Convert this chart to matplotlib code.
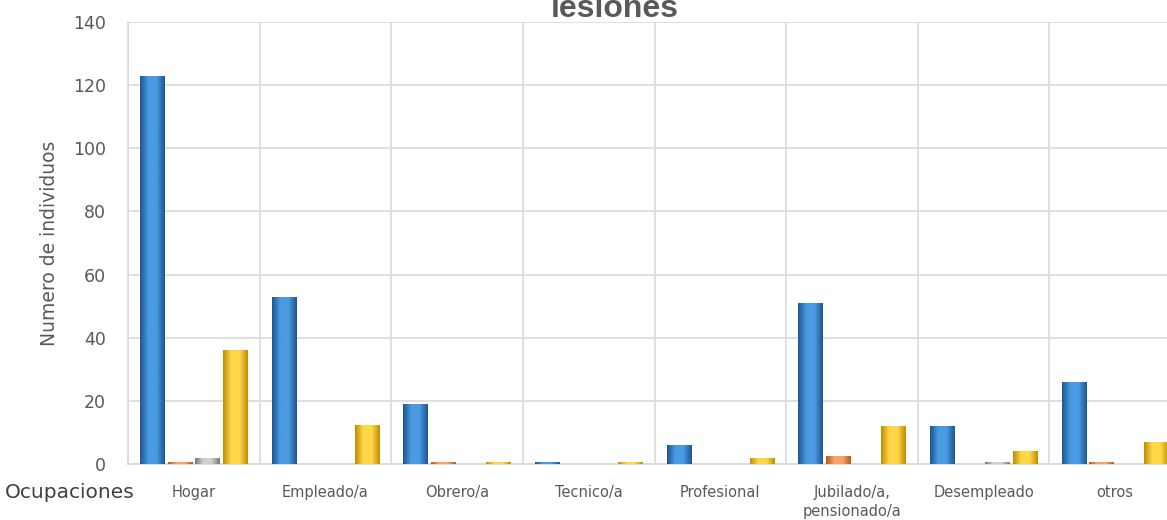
import matplotlib
matplotlib.use("Agg")
import matplotlib.pyplot as plt
import numpy as np
from matplotlib.colors import LinearSegmentedColormap

categories = ["Hogar", "Empleado/a", "Obrero/a", "Tecnico/a", "Profesional",
              "Jubilado/a,\npensionado/a", "Desempleado", "otros"]
serie_azul = [123, 53, 19, 0.6, 6, 51, 12, 26]
serie_naranja = [0.6, 0, 0.5, 0, 0, 2.5, 0, 0.6]
serie_gris = [1.8, 0, 0, 0, 0, 0, 0.6, 0]
serie_amarilla = [36, 12.5, 0.5, 0.6, 2, 12, 4, 7]
yticks = [0, 20, 40, 60, 80, 100, 120, 140]

series = [serie_azul, serie_naranja, serie_gris, serie_amarilla]
base_colors = ["#3A7DC6", "#ED7D31", "#A5A5A5", "#FFC000"]
grad_colors = [("#1F558F", "#4A9BE3"), ("#B85A1C", "#F8A46A"),
               ("#7A7A7A", "#D0D0D0"), ("#C08E00", "#FFD84A")]

fig = plt.figure(figsize=(11.67, 5.2), dpi=100)
ax = fig.add_axes([128/1167, 1-464/520, 1053/1167, 442/520])

n = len(categories)
x = np.arange(n)
bw = 0.185
step = 0.21
offsets = (np.arange(4) - 1.5) * step

for i, (vals, col, (dk, lt)) in enumerate(zip(series, base_colors, grad_colors)):
    bars = ax.bar(x + offsets[i], vals, width=bw, color=col, zorder=3, linewidth=0)
    cmap = LinearSegmentedColormap.from_list("g%d" % i, [dk, lt, lt, dk])
    grad = np.linspace(0, 1, 64).reshape(1, -1)
    for p in bars:
        h = p.get_height()
        if h <= 0:
            continue
        im = ax.imshow(grad, cmap=cmap, aspect="auto", zorder=4,
                       extent=(p.get_x(), p.get_x() + p.get_width(), 0, h),
                       interpolation="bicubic")
        im.set_clip_path(p)

ax.set_xlim(-0.5, n - 0.5)
ax.set_ylim(0, 140)
ax.set_yticks(yticks)
ax.set_yticklabels([str(v) for v in yticks], fontsize=12.5, color="#595959",
                   family="DejaVu Sans")
ax.set_xticks(x)
ax.set_xticklabels(categories, fontsize=10.5, color="#595959", family="DejaVu Sans",
                   linespacing=1.35)
ax.set_xticks(np.arange(n + 1) - 0.5, minor=True)
ax.tick_params(axis="both", which="both", length=0)
ax.tick_params(axis="x", pad=15)
ax.tick_params(axis="y", pad=16)
ax.grid(axis="y", color="#D9D9D9", linewidth=1.2, zorder=0)
ax.grid(axis="x", which="minor", color="#D9D9D9", linewidth=1.2, zorder=0)
ax.grid(axis="x", which="major", visible=False)
for s in ["top", "right"]:
    ax.spines[s].set_visible(False)
for s in ["left", "bottom"]:
    ax.spines[s].set_color("#D9D9D9")
    ax.spines[s].set_linewidth(1.2)

ax.set_ylabel("Numero de individuos", fontsize=13.5, color="#595959",
              family="DejaVu Sans", labelpad=10)
fig.text(5/1167, 1-493/520, "Ocupaciones", fontsize=14.5, color="#404040",
         family="DejaVu Sans", ha="left", va="center")
fig.text(615/1167, 1-17/520, "lesiones", fontsize=23, fontweight="bold",
         color="#595959", family="Liberation Sans", ha="center", va="baseline")

fig.savefig("out.png", dpi=100)
